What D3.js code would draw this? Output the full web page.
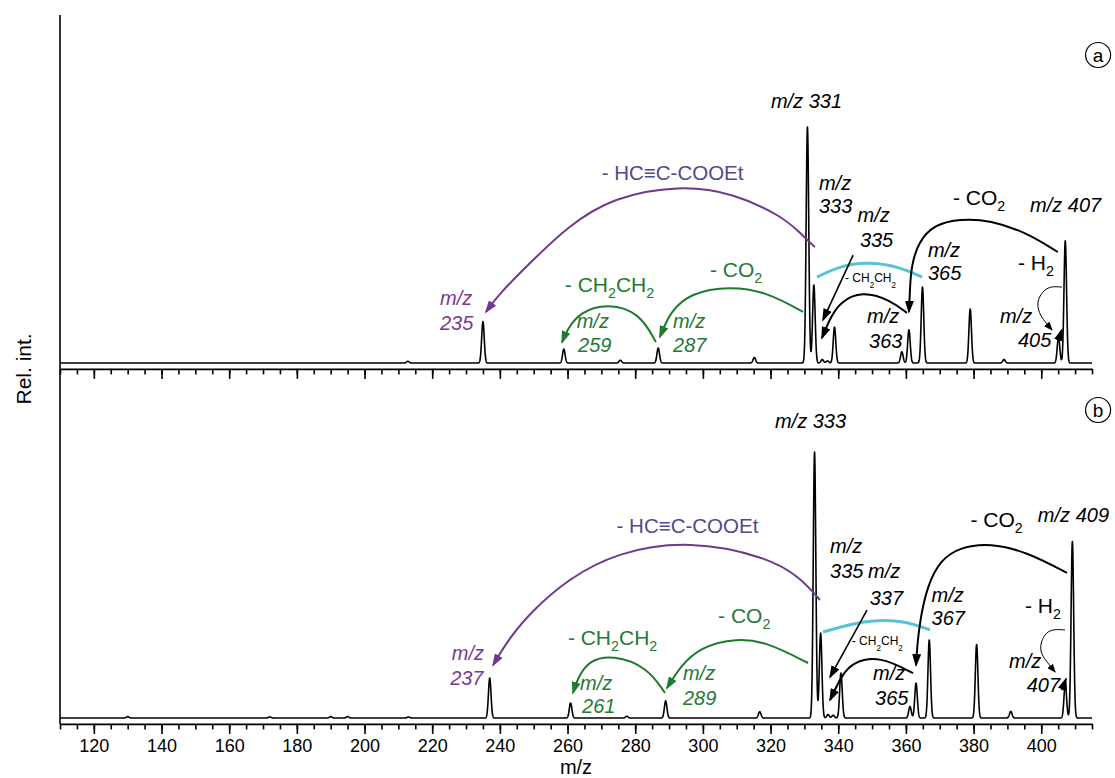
<!DOCTYPE html>
<html>
<head>
<meta charset="utf-8">
<script src="https://cdn.jsdelivr.net/npm/d3@7"></script>
<style>
body { margin:0; background:#fff; }
svg { font-family:"Liberation Sans", Arial, sans-serif; }
.spec { fill:none; stroke:#000; stroke-width:1.6px; stroke-linejoin:round; }
.axis path, .axis line { stroke:#000; stroke-width:1.6px; }
.axis text { font-size:18px; fill:#000; }
</style>
</head>
<body>
<div id="chart"></div>
<script>
// peaks: m/z and height (% of panel height)
var peaksA_mz  = [212.8, 235.0, 258.9, 275.6, 286.8, 315.2, 330.9, 332.8, 335.3, 336.8, 338.9, 358.8, 360.9, 364.9, 379.0, 389.0, 405.1, 407.1];
var peaksA_int = [0.5, 11.9, 4.0, 0.8, 4.3, 1.6, 67.8, 22.4, 1.0, 0.6, 10.3, 3.2, 9.5, 21.8, 15.5, 1.0, 7.5, 35.1];

var peaksB_mz  = [130, 172, 190, 195, 213, 237.0, 260.9, 277.5, 289.0, 316.8, 333.0, 334.8, 337.0, 338.5, 340.8, 361.2, 363.0, 366.9, 380.9, 391.0, 407.1, 409.2];
var peaksB_int = [0.4, 0.3, 0.4, 0.4, 0.3, 11.5, 4.3, 0.5, 4.9, 1.8, 76.4, 24.4, 1.0, 0.8, 12.9, 3.3, 10.0, 22.4, 21.1, 1.9, 10.0, 50.7];

var tickLabels = [120, 140, 160, 180, 200, 220, 240, 260, 280, 300, 320, 340, 360, 380, 400];

// annotations, anchored in data units (m/z, height)
var notesA = [
  {t:"m/z 331", mz:320.1, v:73.3, c:"mz"},
  {t:"m/z", mz:334.3, v:49.7, c:"mz"}, {t:"333", mz:334.3, v:43.1, c:"mz"},
  {t:"m/z", mz:345.7, v:40.5, c:"mz"}, {t:"335", mz:346.4, v:33.3, c:"mz"},
  {t:"- CO_2", mz:373.9, v:45.4, c:"loss"},
  {t:"m/z 407", mz:396.7, v:43.4, c:"mz"},
  {t:"m/z", mz:366.5, v:30.5, c:"mz"}, {t:"365", mz:366.5, v:23.9, c:"mz"},
  {t:"- H_2", mz:393.1, v:26.7, c:"loss"},
  {t:"m/z", mz:348.5, v:11.5, c:"mz"}, {t:"363", mz:349.1, v:4.3, c:"mz"},
  {t:"m/z", mz:387.8, v:11.5, c:"mz"}, {t:"405", mz:393.1, v:4.6, c:"mz"},
  {t:"- CH_2CH_2", mz:342.0, v:23.3, c:"small"},
  {t:"- HC\u2261C-COOEt", mz:270.1, v:52.6, c:"lossP"},
  {t:"m/z", mz:222.3, v:16.7, c:"mzP"}, {t:"235", mz:222.3, v:9.5, c:"mzP"},
  {t:"- CH_2CH_2", mz:259.2, v:20.5, c:"lossG"},
  {t:"- CO_2", mz:302.1, v:24.7, c:"lossG"},
  {t:"m/z", mz:262.7, v:10.1, c:"mzG"}, {t:"259", mz:263.1, v:3.2, c:"mzG"},
  {t:"m/z", mz:291.2, v:10.1, c:"mzG"}, {t:"287", mz:291.2, v:3.2, c:"mzG"}
];
var notesB = [
  {t:"- HC\u2261C-COOEt", mz:274.5, v:53.1, c:"lossP"},
  {t:"m/z", mz:225.8, v:16.7, c:"mzP"}, {t:"237", mz:225.3, v:9.5, c:"mzP"},
  {t:"- CH_2CH_2", mz:260.1, v:21.0, c:"lossG"},
  {t:"- CO_2", mz:304.5, v:27.3, c:"lossG"},
  {t:"m/z", mz:263.7, v:8.0, c:"mzG"}, {t:"261", mz:264.3, v:1.4, c:"mzG"},
  {t:"m/z", mz:294.1, v:10.9, c:"mzG"}, {t:"289", mz:294.1, v:3.7, c:"mzG"},
  {t:"m/z 333", mz:321.3, v:83.3, c:"mz"},
  {t:"m/z", mz:337.6, v:47.4, c:"mz"}, {t:"335", mz:337.6, v:40.2, c:"mz"},
  {t:"m/z", mz:348.8, v:40.2, c:"mz"}, {t:"337", mz:349.3, v:32.5, c:"mz"},
  {t:"- CO_2", mz:379.1, v:55.0, c:"loss"},
  {t:"m/z 409", mz:399.0, v:56.4, c:"mz"},
  {t:"m/z", mz:367.6, v:33.4, c:"mz"}, {t:"367", mz:367.6, v:26.7, c:"mz"},
  {t:"- H_2", mz:395.2, v:30.2, c:"loss"},
  {t:"m/z", mz:390.5, v:14.4, c:"mz"}, {t:"407", mz:395.7, v:7.6, c:"mz"},
  {t:"m/z", mz:350.3, v:10.9, c:"mz"}, {t:"365", mz:350.9, v:3.7, c:"mz"},
  {t:"- CH_2CH_2", mz:344.0, v:21.0, c:"small"}
];

var arrowsA = [
  {c:"purple", pts:[[333.1,33.3],[328.7,37.4],[323.7,42.0],[308.9,48.9],[293.2,51.1],[273.4,47.7],[259.8,39.1],[248.9,28.7],[240.0,20.1],[235.9,14.7]]},
  {c:"green", pts:[[329.6,14.7],[318.9,20.4],[308.0,22.1],[296.2,20.1],[290.3,14.7],[287.3,7.5]]},
  {c:"green", pts:[[286.1,6.0],[281.4,14.4],[272.0,17.2],[263.7,14.7],[259.8,9.5],[258.4,6.0]]},
  {c:"cyan", pts:[[333.7,24.7],[341.4,28.2],[349.4,29.0],[358.3,27.6],[364.8,24.7]]},
  {c:"black", pts:[[360.3,14.4],[355.3,18.1],[347.0,20.7],[340.5,17.5],[337.6,12.9],[335.2,7.2]]},
  {c:"straight", pts:[[344.4,31.0],[335.5,12.4]]},
  {c:"black", pts:[[404.9,31.9],[395.8,37.4],[384.9,41.1],[376.0,41.4],[368.6,39.9],[363.6,34.8],[361.5,27.3],[361.2,21.0],[360.9,14.7]]},
  {c:"thin", pts:[[406.1,21.8],[402.6,22.1],[400.2,20.4],[398.7,17.5],[399.3,14.4],[401.1,11.8],[403.2,9.5]]},
  {c:"straight", pts:[[404.9,6.0],[406.1,9.5]]}
];
var arrowsB = [
  {c:"purple", pts:[[334.6,33.9],[328.7,40.5],[318.9,46.3],[296.2,51.1],[274.6,47.7],[259.8,39.7],[249.8,31.0],[243.0,23.3],[238.0,15.2]]},
  {c:"green", pts:[[331.1,15.8],[318.9,21.8],[310.1,23.0],[299.1,20.4],[293.2,14.7],[289.4,8.6]]},
  {c:"green", pts:[[288.8,7.2],[283.5,14.7],[273.4,18.1],[266.6,16.7],[263.1,11.8],[261.6,7.2]]},
  {c:"cyan", pts:[[335.5,24.7],[343.5,27.0],[351.5,28.2],[359.7,27.9],[367.1,25.3]]},
  {c:"black", pts:[[362.1,12.9],[352.3,17.8],[344.4,16.1],[341.1,12.4],[337.6,5.2]]},
  {c:"straight", pts:[[348.5,31.0],[337.6,11.8]]},
  {c:"black", pts:[[407.6,41.7],[395.8,47.7],[384.9,50.3],[376.0,49.1],[370.1,45.4],[366.2,37.6],[364.2,28.2],[363.3,20.4],[363.0,15.2]]},
  {c:"thin", pts:[[407.0,25.3],[402.6,25.6],[400.5,23.3],[399.6,20.4],[400.2,18.1],[401.7,16.1],[404.1,13.2]]},
  {c:"straight", pts:[[406.1,8.0],[407.3,11.2]]}
];

var panelTags = ["a", "b"];

var W = 1115, H = 778;

var svg = d3.select("#chart")
  .append("svg")
  .attr("width", W)
  .attr("height", H);

var x = d3.scaleLinear().domain([110, 415]).range([60, 1092]);
var yA = d3.scaleLinear().domain([0, 100]).range([363, 15]);
var yB = d3.scaleLinear().domain([0, 100]).range([718, 370]);

var colors = {
  purple:"#6f3a8c", green:"#1f7a30", cyan:"#55c3d8", black:"#000", straight:"#000", thin:"#000",
  mz:"#000", mzP:"#7a3a8e", mzG:"#237a34", loss:"#000", lossP:"#4f4a8c", lossG:"#237a34", small:"#000"
};
var widths = {purple:2, green:2, cyan:3, black:2, straight:1.6, thin:1};
var sizes = {mz:"20px", mzP:"20px", mzG:"20px", loss:"21px", lossG:"21px", lossP:"20.5px", small:"12px"};

// arrow heads
var defs = svg.append("defs");
["purple","green","black","thin"].forEach(function(k){
  var big = k != "thin";
  defs.append("marker")
    .attr("id", "head-" + k)
    .attr("markerUnits", "userSpaceOnUse")
    .attr("markerWidth", big ? 13 : 9)
    .attr("markerHeight", big ? 9 : 7)
    .attr("refX", big ? 11 : 8)
    .attr("refY", big ? 4.5 : 3.5)
    .attr("orient", "auto")
    .append("path")
    .attr("d", big ? "M0,0 L13,4.5 L0,9 Z" : "M0,0 L9,3.5 L0,7 Z")
    .attr("fill", colors[k]);
});

// profile of a spectrum from its peak list
var sigma = 0.38;
function profile(mzs, ints){
  var pts = [];
  for (var m = 110; m <= 415.001; m += 0.05){
    var s = 0;
    mzs.forEach(function(c, i){
      var d = m - c;
      if (Math.abs(d) < 3) { s += ints[i] * Math.exp(-d*d/(2*sigma*sigma)); }
    });
    pts.push([m, s]);
  }
  return pts;
}

function addSub(sel, str){
  var parts = str.split("_");
  sel.append("tspan").text(parts[0]);
  for (var i = 1; i < parts.length; i++){
    sel.append("tspan").attr("dy", 6).attr("font-size", "0.68em").text(parts[i].charAt(0));
    if (parts[i].length > 1) sel.append("tspan").attr("dy", -6).text(parts[i].slice(1));
  }
}

function drawPanel(y, mzs, ints, notes, arrows, tag){
  var g = svg.append("g").attr("class", "panel");

  var line = d3.line()
    .x(function(d){ return x(d[0]); })
    .y(function(d){ return y(d[1]); });
  g.append("path")
    .attr("class", "spec")
    .attr("d", line(profile(mzs, ints)));

  var curve = d3.line()
    .curve(d3.curveBasis)
    .x(function(d){ return x(d[0]); })
    .y(function(d){ return y(d[1]); });

  g.selectAll(".arr")
    .data(arrows)
    .enter()
    .append("path")
    .attr("class", "arr")
    .attr("d", function(d){ return curve(d.pts); })
    .style("fill", "none")
    .style("stroke", function(d){ return colors[d.c]; })
    .style("stroke-width", function(d){ return widths[d.c] + "px"; })
    .attr("marker-end", function(d){
      if (d.c == "cyan") { return null; }
      if (d.c == "straight") { return "url(#head-black)"; }
      return "url(#head-" + d.c + ")";
    });

  g.selectAll(".note")
    .data(notes)
    .enter()
    .append("text")
    .attr("class", "note")
    .attr("x", function(d){ return x(d.mz); })
    .attr("y", function(d){ return y(d.v); })
    .attr("fill", function(d){ return colors[d.c]; })
    .style("font-style", function(d){ return d.c.indexOf("mz") == 0 ? "italic" : "normal"; })
    .style("font-size", function(d){ return sizes[d.c]; })
    .each(function(d){ addSub(d3.select(this), d.t); });

  // circled panel letter
  var tg = g.append("g")
    .attr("transform", "translate(" + x(416.8) + "," + y(88.5) + ")");
  tg.append("circle").attr("r", 12.5).style("fill", "#fff").style("stroke", "#000").style("stroke-width", "1.2px");
  tg.append("text").attr("text-anchor", "middle").attr("dy", "0.35em").style("font-size", "19px").text(tag);
}

drawPanel(yA, peaksA_mz, peaksA_int, notesA, arrowsA, panelTags[0]);
drawPanel(yB, peaksB_mz, peaksB_int, notesB, arrowsB, panelTags[1]);

// axes
var minorTicks = d3.range(110, 416, 5);
[[yA, false], [yB, true]].forEach(function(p){
  var yPos = p[0](-1.7);
  svg.append("g")
    .attr("class", "axis")
    .attr("transform", "translate(0," + yPos + ")")
    .call(d3.axisBottom(x).tickValues(minorTicks).tickSize(5.5).tickSizeOuter(0).tickFormat(""));
  var major = svg.append("g")
    .attr("class", "axis")
    .attr("transform", "translate(0," + yPos + ")")
    .call(d3.axisBottom(x).tickValues(tickLabels).tickSize(10).tickSizeOuter(0)
      .tickFormat(p[1] ? d3.format("d") : function(){ return ""; }));
  major.selectAll("text").attr("dy", "0.85em");
  major.select(".domain").remove();
});

svg.append("line")
  .attr("x1", x(110)).attr("x2", x(110))
  .attr("y1", yA(100)).attr("y2", yB(-1.7))
  .style("stroke", "#000").style("stroke-width", "1.6px");

svg.append("text")
  .attr("x", x(262.5)).attr("y", 774)
  .attr("text-anchor", "middle")
  .style("font-size", "20px")
  .text("m/z");

svg.append("text")
  .attr("transform", "translate(31," + yA(-1.7) + ") rotate(-90)")
  .attr("text-anchor", "middle")
  .style("font-size", "21px")
  .text("Rel. int.");
</script>
</body>
</html>
